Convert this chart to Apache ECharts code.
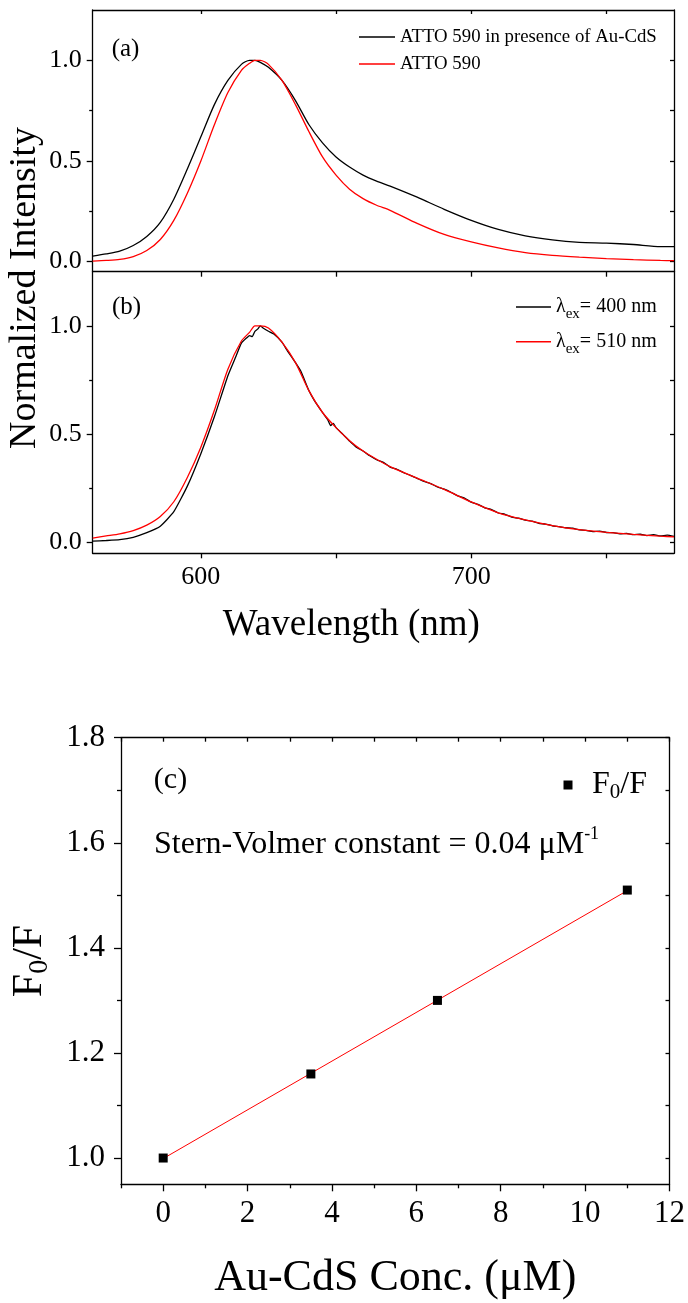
<!DOCTYPE html>
<html><head><meta charset="utf-8">
<script src="https://cdn.jsdelivr.net/npm/echarts@6/dist/echarts.min.js"></script>
<style>html,body{margin:0;padding:0;background:#fff}#c{width:688px;height:1303px}</style>
</head><body><div id="c"></div><script>
// ---------- data ----------
const wavelengths = [560,565,570,575,580,585,590,595,600,605,610,615,618,620,622,625,630,635,640,645,650,655,660,665,670,680,690,700,710,720,730,740,750,760,770,775];
const atto590AuCdS = [0.027,0.038,0.052,0.08,0.125,0.195,0.31,0.46,0.62,0.78,0.90,0.98,1.0,1.0,0.99,0.965,0.90,0.80,0.68,0.59,0.52,0.47,0.43,0.40,0.375,0.32,0.26,0.205,0.16,0.128,0.108,0.096,0.092,0.085,0.075,0.075];
const atto590 = [0.003,0.006,0.011,0.025,0.055,0.11,0.205,0.34,0.50,0.68,0.84,0.95,0.985,1.0,1.0,0.98,0.90,0.78,0.645,0.52,0.43,0.36,0.313,0.28,0.255,0.19,0.135,0.098,0.068,0.045,0.031,0.022,0.015,0.01,0.006,0.005];
const ex510 = [0.02,0.03,0.04,0.055,0.08,0.12,0.188,0.30,0.44,0.61,0.80,0.93,0.97,1.0,1.0,0.99,0.925,0.83,0.70,0.60,0.53,0.47,0.422,0.384,0.35,0.297,0.245,0.187,0.137,0.104,0.078,0.059,0.047,0.037,0.029,0.026];
const wavelengthsFine = [560,565,570,575,580,585,590,595,600,605,610,613,615,617,618,619,620,621,622,623,625,627,630,632,635,637,640,642,645,647,648,649,650,652.5,655,657.5,660,662.5,665,667.5,670,672.5,675,677.5,680,682.5,685,687.5,690,692.5,695,697.5,700,702.5,705,707.5,710,712.5,715,717.5,720,722.5,725,727.5,730,732.5,735,737.5,740,742.5,745,747.5,750,752.5,755,757.5,760,762.5,765,767.5,770,772.5,775];
const ex400 = [0.006,0.009,0.013,0.024,0.045,0.075,0.142,0.26,0.41,0.58,0.77,0.86,0.92,0.945,0.955,0.95,0.975,0.985,1.0,0.99,0.975,0.962,0.925,0.885,0.83,0.79,0.70,0.655,0.60,0.565,0.54,0.55,0.53,0.50,0.468,0.44,0.422,0.40,0.382,0.37,0.348,0.338,0.322,0.31,0.296,0.282,0.272,0.256,0.246,0.232,0.215,0.205,0.186,0.176,0.16,0.152,0.136,0.13,0.117,0.112,0.103,0.098,0.088,0.085,0.077,0.073,0.068,0.066,0.058,0.056,0.05,0.052,0.046,0.045,0.04,0.042,0.036,0.038,0.032,0.036,0.03,0.034,0.028];
const conc = [0, 3.5, 6.5, 11];
const f0f = [1.0, 1.16, 1.30, 1.51];
const fitConc = [0, 11];
const fitF0F = [0.999, 1.509];
const wlLabels = [600, 700];
const wlTicks = [600, 650, 700, 750];
const intLabels = [0, 0.5, 1.0];
const intMinor = [0.25, 0.75];
const concLabels = [0, 2, 4, 6, 8, 10, 12];
const concMinor = [-1, 1, 3, 5, 7, 9, 11];
const f0fLabels = [1.0, 1.2, 1.4, 1.6, 1.8];
const f0fMinor = [1.1, 1.3, 1.5, 1.7];

// ---------- helpers ----------
const FONT = 'Liberation Serif';
const LS = {color: '#000', width: 1.3};
const zip = (a, b) => a.map((v, i) => [v, b[i]]);
function ax(o) {
  const base = {
    type: 'value', splitLine: {show: false},
    axisLine: {show: o.line !== false, onZero: false, lineStyle: LS},
    axisTick: {show: !!o.ticks, inside: !!o.inside, length: o.tl || 5, customValues: o.ticks || [], lineStyle: LS},
    axisLabel: o.labels ? {show: true, customValues: o.labels, fontFamily: FONT, fontSize: o.fs, color: '#000', margin: o.margin,
      formatter: o.fmt || (v => String(v))} : {show: false}
  };
  ['gridIndex','position','min','max','name','nameLocation','nameGap','nameTextStyle'].forEach(k => { if (o[k] !== undefined) base[k] = o[k]; });
  return base;
}
const f1 = v => v.toFixed(1);
const allConc = []; for (let i = -1; i <= 12; i++) allConc.push(i);
const allF = [1.0,1.1,1.2,1.3,1.4,1.5,1.6,1.7,1.8];

const chart = echarts.init(document.getElementById('c'), null, {renderer: 'canvas'});
chart.setOption({
  animation: false,
  backgroundColor: '#fff',
  textStyle: {fontFamily: FONT, color: '#000'},
  grid: [
    {left: 92.7, top: 10, width: 581.3, height: 261.7},
    {left: 92.7, top: 271.7, width: 581.3, height: 281.6},
    {left: 121, top: 737.7, width: 552, height: 446.6}
  ],
  xAxis: [
    ax({gridIndex: 0, position: 'bottom', min: 560, max: 775, ticks: wlTicks, tl: 5}),
    ax({gridIndex: 0, position: 'top', min: 560, max: 775, ticks: wlTicks, tl: 4, inside: true}),
    ax({gridIndex: 1, position: 'bottom', min: 560, max: 775, ticks: wlTicks, tl: 5, labels: wlLabels, fs: 26, margin: 11,
        name: 'Wavelength (nm)', nameLocation: 'middle', nameGap: 53,
        nameTextStyle: {fontFamily: FONT, fontSize: 37, color: '#000', padding: [0, 64, 0, 0]}}),
    ax({gridIndex: 2, position: 'bottom', min: -1, max: 12, ticks: concLabels, tl: 7, labels: concLabels, fs: 31, margin: 14,
        name: 'Au-CdS Conc. (μM)', nameLocation: 'middle', nameGap: 72,
        nameTextStyle: {fontFamily: FONT, fontSize: 44, color: '#000'}}),
    ax({gridIndex: 2, position: 'bottom', min: -1, max: 12, ticks: concMinor, tl: 4, line: false}),
    ax({gridIndex: 2, position: 'top', min: -1, max: 12, ticks: allConc, tl: 4, inside: true})
  ],
  yAxis: [
    ax({gridIndex: 0, position: 'left', min: -0.05, max: 1.25, ticks: intLabels, tl: 6, labels: intLabels, fs: 26, margin: 11, fmt: f1}),
    ax({gridIndex: 0, position: 'left', min: -0.05, max: 1.25, ticks: intMinor, tl: 3.5, line: false}),
    ax({gridIndex: 0, position: 'right', min: -0.05, max: 1.25, ticks: [0,0.25,0.5,0.75,1.0], tl: 4, inside: true}),
    ax({gridIndex: 1, position: 'left', min: -0.05, max: 1.25, ticks: intLabels, tl: 6, labels: intLabels, fs: 26, margin: 11, fmt: f1}),
    ax({gridIndex: 1, position: 'left', min: -0.05, max: 1.25, ticks: intMinor, tl: 3.5, line: false}),
    ax({gridIndex: 1, position: 'right', min: -0.05, max: 1.25, ticks: [0,0.25,0.5,0.75,1.0], tl: 4, inside: true}),
    ax({gridIndex: 2, position: 'left', min: 0.95, max: 1.8, ticks: f0fLabels, tl: 7, labels: f0fLabels, fs: 31, margin: 16, fmt: f1}),
    ax({gridIndex: 2, position: 'left', min: 0.95, max: 1.8, ticks: f0fMinor, tl: 4, line: false}),
    ax({gridIndex: 2, position: 'right', min: 0.95, max: 1.8, ticks: allF, tl: 4, inside: true})
  ],
  legend: [
    {data: ['ATTO 590 in presence of Au-CdS', 'ATTO 590'], left: 359, top: 27, orient: 'vertical', padding: 0,
     icon: 'rect', itemWidth: 36, itemHeight: 1.5, itemGap: 7, selectedMode: false,
     textStyle: {fontFamily: FONT, fontSize: 18.8, lineHeight: 20, color: '#000'}},
    {data: ['λex= 400 nm', 'λex= 510 nm'], left: 516, top: 297, orient: 'vertical', padding: 0,
     icon: 'rect', itemWidth: 35, itemHeight: 1.5, itemGap: 9.7, selectedMode: false,
     formatter: n => '{t|λ}{s|ex}{t|' + n.slice(3) + '}',
     textStyle: {fontFamily: FONT, fontSize: 20, color: '#000',
       rich: {t: {fontFamily: FONT, fontSize: 20, lineHeight: 30, color: '#000'},
              s: {fontFamily: FONT, fontSize: 15, lineHeight: 15, verticalAlign: 'bottom', color: '#000'}}}},
    {data: ['F0/F'], left: 563.5, top: 769, padding: 0, itemWidth: 9, itemHeight: 9, selectedMode: false,
     formatter: () => '{t|F}{s|0}{t|/F}',
     textStyle: {fontFamily: FONT, fontSize: 32, color: '#000', padding: [0, 0, 0, 14.5],
       rich: {t: {fontFamily: FONT, fontSize: 32, lineHeight: 36, color: '#000'},
              s: {fontFamily: FONT, fontSize: 21, lineHeight: 20, verticalAlign: 'bottom', color: '#000'}}}}
  ],
  series: [
    {type: 'line', name: 'ATTO 590 in presence of Au-CdS', xAxisIndex: 0, yAxisIndex: 0, data: zip(wavelengths, atto590AuCdS),
     symbol: 'none', smooth: 0.25, lineStyle: {color: '#000', width: 1.3}, itemStyle: {color: '#000'}},
    {type: 'line', name: 'ATTO 590', xAxisIndex: 0, yAxisIndex: 0, data: zip(wavelengths, atto590),
     symbol: 'none', smooth: 0.25, lineStyle: {color: '#ff0000', width: 1.3}, itemStyle: {color: '#ff0000'}},
    {type: 'line', name: 'λex= 400 nm', xAxisIndex: 2, yAxisIndex: 3, data: zip(wavelengthsFine, ex400),
     symbol: 'none', smooth: 0.15, lineStyle: {color: '#000', width: 1.3}, itemStyle: {color: '#000'}},
    {type: 'line', name: 'λex= 510 nm', xAxisIndex: 2, yAxisIndex: 3, data: zip(wavelengths, ex510),
     symbol: 'none', smooth: 0.25, lineStyle: {color: '#ff0000', width: 1.3}, itemStyle: {color: '#ff0000'}},
    {type: 'line', name: 'fit', xAxisIndex: 3, yAxisIndex: 6, data: zip(fitConc, fitF0F),
     symbol: 'none', lineStyle: {color: '#ff0000', width: 1}, itemStyle: {color: '#ff0000'}},
    {type: 'scatter', name: 'F0/F', xAxisIndex: 3, yAxisIndex: 6, data: zip(conc, f0f), z: 5,
     symbol: 'rect', symbolSize: 9, itemStyle: {color: '#000', opacity: 1}}
  ],
  graphic: [
    {type: 'text', x: 125.5, y: 49, style: {text: '(a)', font: '25px "Liberation Serif"', fill: '#000', align: 'center', verticalAlign: 'middle', textAlign: 'center', textVerticalAlign: 'middle'}},
    {type: 'text', x: 126.5, y: 307, style: {text: '(b)', font: '25px "Liberation Serif"', fill: '#000', align: 'center', verticalAlign: 'middle', textAlign: 'center', textVerticalAlign: 'middle'}},
    {type: 'text', x: 170.5, y: 780, style: {text: '(c)', font: '30px "Liberation Serif"', fill: '#000', align: 'center', verticalAlign: 'middle', textAlign: 'center', textVerticalAlign: 'middle'}},
    {type: 'text', x: 25, y: 288, rotation: Math.PI / 2, style: {text: 'Normalized Intensity', font: '38px "Liberation Serif"', fill: '#000', align: 'center', verticalAlign: 'middle', textAlign: 'center', textVerticalAlign: 'middle'}},
    {type: 'text', x: 30, y: 961, rotation: Math.PI / 2,
     style: {text: '{t|F}{s|0}{t|/F}', fill: '#000', align: 'center', verticalAlign: 'middle', textAlign: 'center', textVerticalAlign: 'middle',
       rich: {t: {fontFamily: FONT, fontSize: 42, lineHeight: 48, fill: '#000'}, s: {fontFamily: FONT, fontSize: 28, lineHeight: 24, verticalAlign: 'bottom', fill: '#000'}}}},
    {type: 'text', x: 154, y: 825,
     style: {text: '{t|Stern-Volmer constant = 0.04 μM}{u|-1}', fill: '#000', align: 'left', verticalAlign: 'top', textAlign: 'left', textVerticalAlign: 'top',
       rich: {t: {fontFamily: FONT, fontSize: 32, lineHeight: 40, fill: '#000'}, u: {fontFamily: FONT, fontSize: 18, lineHeight: 32, verticalAlign: 'top', fill: '#000'}}}}
  ]
});
</script></body></html>
